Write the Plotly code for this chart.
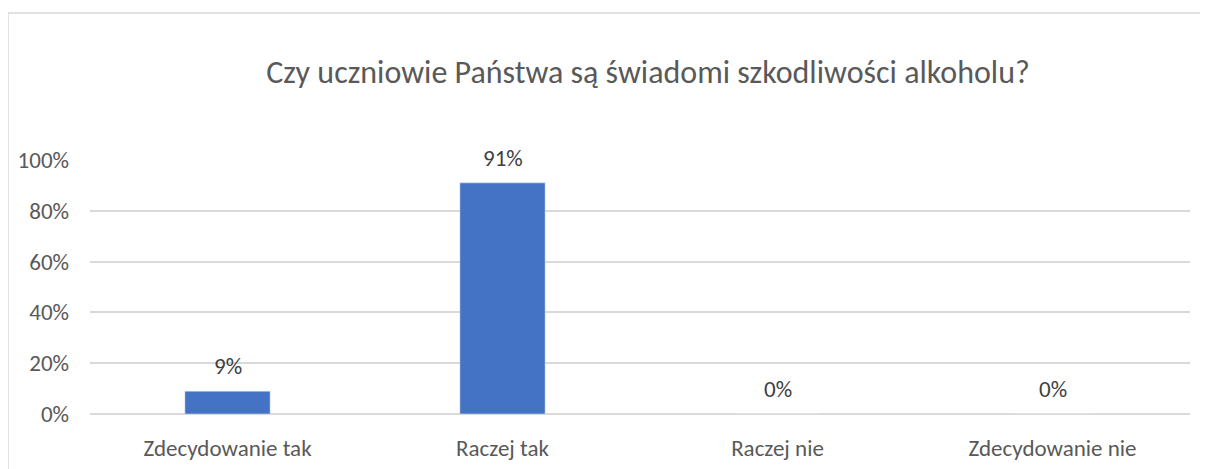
import plotly.graph_objects as go

categories = ["Zdecydowanie tak", "Raczej tak", "Raczej nie", "Zdecydowanie nie"]
values = [0.09, 0.91, 0.0, 0.0]
labels = ["9%", "91%", "0%", "0%"]
tick_vals = [0, 0.2, 0.4, 0.6, 0.8, 1.0]
tick_text = ["0%", "20%", "40%", "60%", "80%", "100%"]
title = "Czy uczniowie Państwa są świadomi szkodliwości alkoholu?"

# page body has an 8px offset; design in figure coordinates
OFF = 8
W, H = 1208 - OFF, 469 - OFF
L, R, T, B = 90 - OFF, 1208 - 1190, 160 - OFF, 469 - 414
pw, ph = W - L - R, H - T - B

fig = go.Figure(go.Bar(
    x=categories, y=values,
    marker=dict(color="#4472C4"), width=0.31, cliponaxis=False,
))

font = "Carlito, Calibri, 'Open Sans', sans-serif"
annotations = [
    dict(x=c, y=v, text=t, xref="x", yref="y", showarrow=False,
         yanchor="bottom", yshift=9, font=dict(size=23, color="#404040"))
    for c, v, t in zip(categories, values, labels)
]

fig.update_layout(
    width=W, height=H,
    margin=dict(l=L, r=R, t=T, b=B, autoexpand=False),
    paper_bgcolor="white", plot_bgcolor="white",
    font=dict(family=font, color="#595959", size=23),
    title=dict(text=title, x=(648 - 90) / pw, xref="paper", xanchor="center",
               y=1 - (72 - OFF) / H, yanchor="middle",
               font=dict(size=32, color="#595959", family=font)),
    showlegend=False,
    annotations=annotations,
    xaxis=dict(showgrid=False, showline=False, ticks="", ticklabelstandoff=18,
               automargin=False, tickfont=dict(size=23, color="#595959")),
    yaxis=dict(range=[0, 1], tickvals=tick_vals, ticktext=tick_text,
               showgrid=True, gridcolor="#D9D9D9", gridwidth=1.5,
               zeroline=True, zerolinecolor="#D9D9D9", zerolinewidth=1.5,
               showline=False, ticks="", ticklabelstandoff=20, automargin=False,
               tickfont=dict(size=23, color="#595959")),
    shapes=[dict(type="rect", xref="paper", yref="paper",
                 x0=(8 - 90) / pw, x1=2.0, y0=-1.0, y1=(414 - 13) / ph,
                 line=dict(color="#D9D9D9", width=1.5), fillcolor="rgba(0,0,0,0)",
                 layer="below")],
)

fig.write_html("out.html")
